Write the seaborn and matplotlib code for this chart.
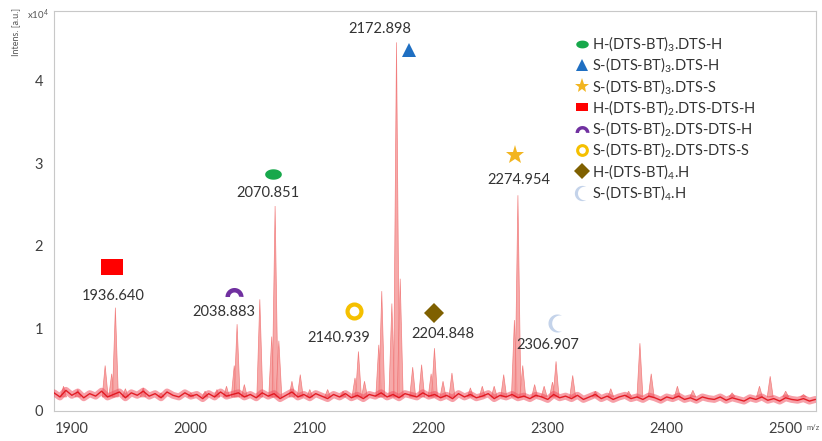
import numpy as np
import matplotlib
matplotlib.use('Agg')
import matplotlib.pyplot as plt
from matplotlib.path import Path
from matplotlib.lines import Line2D
from matplotlib.ticker import MultipleLocator
import seaborn as sns

# Baseline noise (x1e4), read every 5 m/z from 1885 to 2525
base_start, base_step = 1885, 5
base_int = [
    0.22, 0.17, 0.25, 0.19, 0.23, 0.16, 0.21, 0.18, 0.24, 0.17, 0.20, 0.23, 0.16, 0.22, 0.19, 0.24,
    0.18, 0.21, 0.16, 0.23, 0.19, 0.17, 0.22, 0.18, 0.20, 0.15, 0.21, 0.17, 0.23, 0.18, 0.20, 0.22,
    0.17, 0.20, 0.16, 0.22, 0.18, 0.21, 0.15, 0.19, 0.23, 0.17, 0.20, 0.16, 0.21, 0.18, 0.15, 0.20,
    0.17, 0.21, 0.16, 0.19, 0.15, 0.20, 0.18, 0.22, 0.17, 0.20, 0.16, 0.21, 0.19, 0.17, 0.22, 0.18,
    0.20, 0.16, 0.19, 0.15, 0.21, 0.17, 0.20, 0.16, 0.18, 0.21, 0.15, 0.19, 0.17, 0.20, 0.16, 0.18,
    0.15, 0.19, 0.17, 0.14, 0.20, 0.16, 0.18, 0.15, 0.19, 0.14, 0.17, 0.20, 0.15, 0.18, 0.14, 0.17,
    0.19, 0.15, 0.17, 0.14, 0.18, 0.16, 0.13, 0.17, 0.15, 0.18, 0.14, 0.16, 0.13, 0.17, 0.15, 0.14,
    0.17, 0.13, 0.16, 0.14, 0.12, 0.16, 0.14, 0.17, 0.13, 0.15, 0.12, 0.16, 0.14, 0.13, 0.15, 0.12,
    0.14,
]

# Peaks (m/z, intensity x1e4)
peak_mz = [1893, 1905, 1928, 1933.5, 1936.6, 1945, 1960, 1975, 2000, 2012, 2022, 2030,
           2036.5, 2038.9, 2045, 2058, 2068, 2070.85, 2074, 2085, 2092, 2100, 2115, 2128,
           2138, 2140.9, 2146, 2158, 2160.5, 2169, 2172.9, 2176, 2186.5, 2194, 2202, 2204.8,
           2212, 2219.5, 2235, 2245, 2255, 2263, 2272, 2274.95, 2279, 2289, 2297, 2304,
           2307, 2321, 2340, 2353, 2368, 2377.5, 2387, 2409, 2422, 2455, 2478, 2487, 2500, 2515]
peak_int = [0.30, 0.26, 0.55, 0.45, 1.25, 0.27, 0.28, 0.22, 0.22, 0.24, 0.26, 0.30,
            0.55, 1.05, 0.32, 1.35, 0.90, 2.48, 0.85, 0.36, 0.44, 0.26, 0.26, 0.24,
            0.40, 0.72, 0.36, 0.80, 1.45, 1.30, 4.46, 1.60, 0.53, 0.56, 0.45, 0.76,
            0.36, 0.46, 0.28, 0.30, 0.30, 0.44, 1.10, 2.61, 0.55, 0.32, 0.30, 0.35,
            0.60, 0.43, 0.24, 0.27, 0.24, 0.82, 0.45, 0.30, 0.25, 0.22, 0.30, 0.42, 0.24, 0.20]

# Peak annotations
label_text = ['1936.640', '2038.883', '2070.851', '2140.939', '2172.898',
              '2204.848', '2274.954', '2306.907']
label_x = [1934.7, 2028, 2065, 2124.6, 2159, 2212, 2276, 2300]
label_y = [1.39, 1.20, 2.64, 0.88, 4.62, 0.93, 2.79, 0.80]

# Species symbols placed in the spectrum
species = ['H-(DTS-BT)$_3$.DTS-H', 'S-(DTS-BT)$_3$.DTS-H', 'S-(DTS-BT)$_3$.DTS-S',
           'H-(DTS-BT)$_2$.DTS-DTS-H', 'S-(DTS-BT)$_2$.DTS-DTS-H',
           'S-(DTS-BT)$_2$.DTS-DTS-S', 'H-(DTS-BT)$_4$.H', 'S-(DTS-BT)$_4$.H']
sym_x = [2069, 2183.5, 2272.5, 1933.8, 2036.4, 2137.2, 2204, 2307.8]
sym_y = [2.87, 4.37, 3.10, 1.74, 1.44, 1.21, 1.19, 1.06]

# marker shapes
t = np.linspace(0, 2 * np.pi, 60)
ellipse = Path(np.c_[1.6 * np.cos(t), np.sin(t)], closed=True)
rect = Path([[-1.4, -1], [1.4, -1], [1.4, 1], [-1.4, 1], [-1.4, -1]], closed=True)
a = np.linspace(0, np.pi, 40)
arc = Path(np.r_[np.c_[np.cos(a), np.sin(a) - 0.5],
                 np.c_[0.5 * np.cos(a[::-1]), 0.5 * np.sin(a[::-1]) - 0.5]], closed=True)
ao = np.linspace(np.pi / 3, 5 * np.pi / 3, 50)
ai = np.linspace(np.arctan2(-0.866, 0.2), np.arctan2(0.866, 0.2) - 2 * np.pi, 50)
moon = Path(np.r_[np.c_[np.cos(ao), np.sin(ao)],
                  np.c_[0.3 + 0.889 * np.cos(ai), 0.889 * np.sin(ai)]], closed=True)

styles = [
    dict(marker=ellipse, color='#17a84b', ms=12, lms=9),
    dict(marker='^', color='#1f6fc2', ms=10, lms=8),
    dict(marker='*', color='#f2b520', ms=14, lms=11),
    dict(marker=rect, color='#ff0000', ms=16, lms=8),
    dict(marker=arc, color='#7030a0', ms=13, lms=10),
    dict(marker='o', color='#f5c000', ms=10, lms=7, hollow=True),
    dict(marker='D', color='#7f6000', ms=10, lms=8),
    dict(marker=moon, color='#c4d3ea', ms=13, lms=11),
]

sns.set_style('white')
plt.rcParams['font.family'] = ['Lato', 'DejaVu Sans']
plt.rcParams['mathtext.default'] = 'regular'

fig = plt.figure(figsize=(8.22, 4.41), dpi=100)
ax = fig.add_axes([54 / 822, 30 / 441, 762 / 822, 400 / 441])

# peaks as narrow triangles
w = 2.5
for c, h in zip(peak_mz, peak_int):
    ax.fill([c - w, c, c + w], [0.17, h, 0.17], color='#f59a9a', alpha=0.85, lw=0.5,
            ec='#f07070', zorder=2)

base_mz = base_start + base_step * np.arange(len(base_int))
# wide soft band + thin dark trace to mimic the dense noise
sns.lineplot(x=base_mz, y=base_int, ax=ax, color='#f25060', lw=5, alpha=0.55, zorder=3)
sns.lineplot(x=base_mz, y=base_int, ax=ax, color='#e01018', lw=1.0, alpha=0.9, zorder=3)

for txt, x, y in zip(label_text, label_x, label_y):
    ax.text(x, y, txt, ha='center', va='center', fontsize=10.5, color='#333333')

handles = []
for st, x, y, name in zip(styles, sym_x, sym_y, species):
    hollow = st.get('hollow', False)
    kw = dict(marker=st['marker'], color=st['color'], ls='none',
              mfc='none' if hollow else st['color'], mec=st['color'],
              mew=3 if hollow else 0)
    ax.plot([x], [y], ms=st['ms'], zorder=5, **kw)
    kw['mew'] = 2.2 if hollow else 0
    handles.append(Line2D([], [], ms=st['lms'], label=name, **kw))

ax.legend(handles=handles, loc='upper left', bbox_to_anchor=(0.675, 0.96), frameon=False,
          fontsize=10.5, handlelength=0.9, handletextpad=0.25, labelspacing=0.17,
          borderpad=0, labelcolor='#333333')

ax.set_xlim(1885, 2525.5)
ax.set_ylim(0, 4.84)
ax.xaxis.set_major_locator(MultipleLocator(100))
ax.xaxis.set_minor_locator(MultipleLocator(20))
ax.yaxis.set_major_locator(MultipleLocator(1))
ax.yaxis.set_minor_locator(MultipleLocator(0.2))
ax.yaxis.set_major_formatter(lambda v, p: f'{v:.0f}')
ax.tick_params(which='both', direction='out', color='#bfbfbf', labelcolor='#404040',
               labelsize=10.5, width=0.8)
ax.tick_params(which='major', length=3, pad=5)
ax.tick_params(which='minor', length=2)
for s in ax.spines.values():
    s.set_color('#c8c8c8')
    s.set_linewidth(0.8)

fig.text(16 / 822, 1 - 32 / 441, 'Intens. [a.u.]', rotation=90, ha='center', va='center',
         fontsize=6.5, color='#555555')
fig.text(38 / 822, 1 - 15 / 441, 'x10$^4$', ha='center', va='center', fontsize=7,
         color='#555555')
fig.text(813 / 822, 1 - 428 / 441, 'm/z', ha='center', va='center', fontsize=5.5,
         color='#555555')

fig.savefig('out.png', dpi=100)
